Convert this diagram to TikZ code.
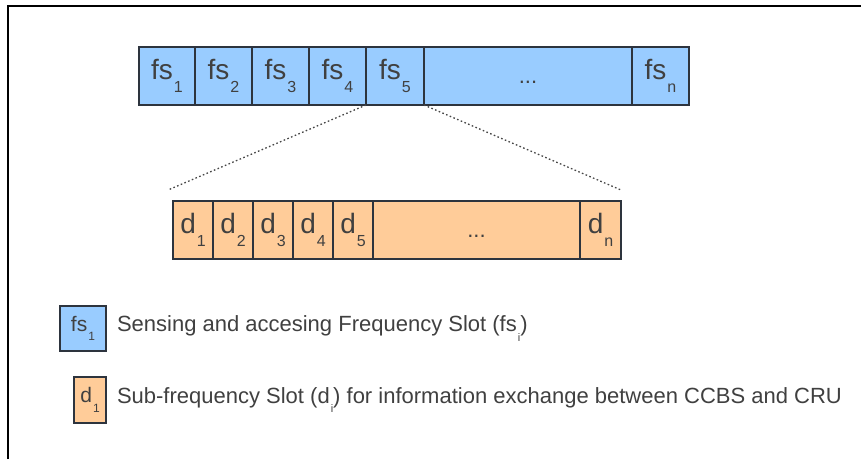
\documentclass[tikz,border=0pt]{standalone}
\usepackage{fontspec}
\setmainfont{Liberation Sans}
\usetikzlibrary{positioning}
\definecolor{SlotBlue}{RGB}{153,204,255}
\definecolor{SlotOrange}{RGB}{255,204,153}
\definecolor{SlotLine}{RGB}{45,52,62}
\definecolor{SlotText}{RGB}{64,64,64}
\definecolor{SlotDots}{RGB}{70,70,70}
% name with a lowered index: {name}{index}{index size}
\newcommand{\slotname}[3]{#1\kern1pt\raisebox{-0.45em}{\fontsize{#3}{#3}\selectfont #2}}

\begin{document}
\begin{tikzpicture}[x=1pt,y=-1pt,
  fscell/.style={draw=SlotLine,fill=SlotBlue,line width=1.3pt,minimum height=58pt,inner sep=0pt,outer sep=0pt,text=SlotText,font=\fontsize{28}{28}\selectfont},
  dcell/.style={draw=SlotLine,fill=SlotOrange,line width=1.3pt,minimum height=58pt,inner sep=0pt,outer sep=0pt,text=SlotText,font=\fontsize{28}{28}\selectfont},
  zoomline/.style={SlotDots,line width=1.3pt,dash pattern=on 1.6pt off 2.4pt},
  keytext/.style={inner sep=0pt,outer sep=0pt,text=SlotText,font=\fontsize{22}{22}\selectfont}]
  \useasboundingbox (0,0) rectangle (861,459);
  \draw[line width=2pt] (8,459) -- (8,6) -- (861,6);

  % frequency slots
  \node[fscell,minimum width=56pt,anchor=north west] (fs1) at (139,47) {\slotname{fs}{1}{16}};
  \node[fscell,minimum width=57pt,right=0pt of fs1] (fs2) {\slotname{fs}{2}{16}};
  \node[fscell,minimum width=57pt,right=0pt of fs2] (fs3) {\slotname{fs}{3}{16}};
  \node[fscell,minimum width=57pt,right=0pt of fs3] (fs4) {\slotname{fs}{4}{16}};
  \node[fscell,minimum width=58pt,right=0pt of fs4] (fs5) {\slotname{fs}{5}{16}};
  \node[fscell,minimum width=208pt,right=0pt of fs5,font=\fontsize{22}{22}\selectfont] (fsdots) {\vphantom{fs}...};
  \node[fscell,minimum width=57pt,right=0pt of fsdots] (fsn) {\slotname{fs}{n}{16}};

  % sub-frequency slots
  \node[dcell,minimum width=40pt,anchor=north west] (d1) at (173,201) {\slotname{d}{1}{16}};
  \node[dcell,minimum width=40pt,right=0pt of d1] (d2) {\slotname{d}{2}{16}};
  \node[dcell,minimum width=40pt,right=0pt of d2] (d3) {\slotname{d}{3}{16}};
  \node[dcell,minimum width=40pt,right=0pt of d3] (d4) {\slotname{d}{4}{16}};
  \node[dcell,minimum width=40pt,right=0pt of d4] (d5) {\slotname{d}{5}{16}};
  \node[dcell,minimum width=207pt,right=0pt of d5,font=\fontsize{22}{22}\selectfont] (ddots) {\vphantom{d}...};
  \node[dcell,minimum width=41pt,right=0pt of ddots] (dn) {\slotname{d}{n}{16}};

  \coordinate (zoomL) at ([xshift=-5pt,yshift=11pt]d1.north west);
  \coordinate (zoomR) at ([yshift=11pt]dn.north east);
  \draw[zoomline] (fs5.south west) -- (zoomL);
  \draw[zoomline] (fs5.south east) -- (zoomR);

  % legend
  \node[fscell,minimum width=46pt,minimum height=45pt,anchor=north west,font=\fontsize{21}{21}\selectfont] (keyfs) at (60,306) {\slotname{fs}{1}{12}};
  \node[keytext,right=11pt of keyfs] (keyfstext) {Sensing and accesing Frequency Slot (\slotname{fs}{i}{11})};
  \node[dcell,minimum width=32pt,minimum height=46pt,anchor=north west,font=\fontsize{21}{21}\selectfont] (keyd) at (74,377) {\slotname{d}{1}{12}};
  \node[keytext,right=11pt of keyd] (keydtext) {Sub-frequency Slot (\slotname{d}{i}{11}) for information exchange between CCBS and CRU};
\end{tikzpicture}
\end{document}
